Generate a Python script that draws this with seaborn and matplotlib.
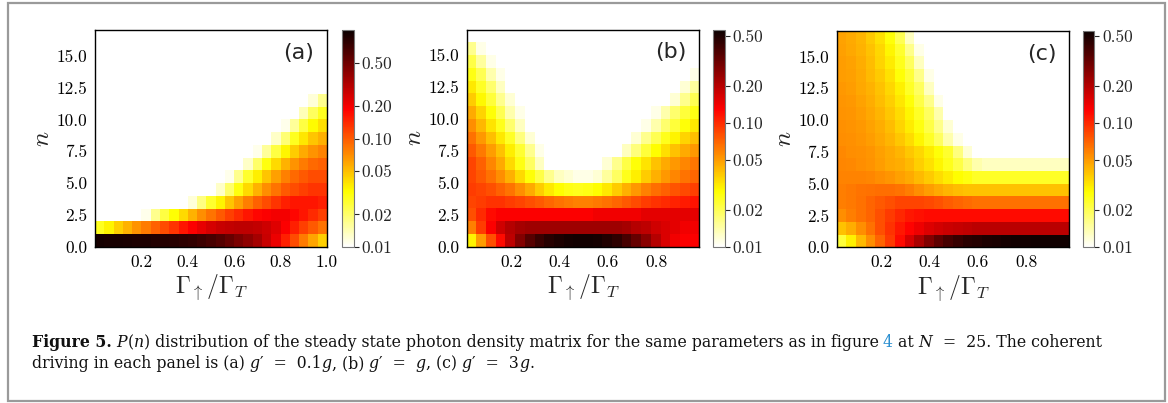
import numpy as np
import pandas as pd
import seaborn as sns
from matplotlib import pyplot as plt
from matplotlib.colors import LogNorm
from matplotlib.patches import Rectangle

# photon number n (rows) and pump ratio Gamma_up / Gamma_T (columns)
n_levels = list(range(17))

gamma_a = [0.02, 0.06, 0.10, 0.14, 0.18, 0.22, 0.26, 0.30, 0.34, 0.38, 0.42, 0.46, 0.50,
           0.54, 0.58, 0.62, 0.66, 0.70, 0.74, 0.78, 0.82, 0.86, 0.90, 0.94, 0.98]
gamma_bc = [0.037, 0.077, 0.117, 0.158, 0.198, 0.238, 0.278, 0.319, 0.359, 0.399, 0.440, 0.480,
            0.520, 0.560, 0.601, 0.641, 0.681, 0.722, 0.762, 0.802, 0.842, 0.883, 0.923, 0.963]

# P(n), (a) g' = 0.1g ; rows n = 0..16
pn_a = [
    [0.92, 0.91, 0.9, 0.89, 0.88, 0.87, 0.85, 0.83, 0.81, 0.78, 0.75, 0.71, 0.66, 0.6, 0.53,
     0.46, 0.4, 0.34, 0.27, 0.21, 0.15, 0.11, 0.08, 0.06, 0.045],
    [0.028, 0.035, 0.045, 0.055, 0.068, 0.08, 0.095, 0.11, 0.13, 0.16, 0.19, 0.22, 0.25, 0.27,
     0.28, 0.29, 0.29, 0.28, 0.26, 0.23, 0.19, 0.15, 0.12, 0.1, 0.085],
    [0] * 5 + [0.011, 0.017, 0.024, 0.032, 0.042, 0.055, 0.07, 0.085, 0.1, 0.12, 0.14, 0.16,
               0.18, 0.19, 0.2, 0.2, 0.18, 0.16, 0.14, 0.12],
    [0] * 10 + [0.012, 0.018, 0.026, 0.035, 0.048, 0.062, 0.078, 0.095, 0.11, 0.13, 0.15, 0.16,
                0.16, 0.16, 0.15],
    [0] * 13 + [0.013, 0.02, 0.03, 0.042, 0.055, 0.07, 0.085, 0.1, 0.11, 0.12, 0.13, 0.13],
    [0] * 14 + [0.011, 0.017, 0.026, 0.036, 0.048, 0.062, 0.077, 0.09, 0.1, 0.11, 0.11],
    [0] * 16 + [0.013, 0.02, 0.03, 0.042, 0.055, 0.068, 0.08, 0.09, 0.095],
    [0] * 17 + [0.011, 0.016, 0.024, 0.034, 0.046, 0.058, 0.068, 0.075],
    [0] * 19 + [0.013, 0.019, 0.028, 0.038, 0.048, 0.056],
    [0] * 20 + [0.011, 0.016, 0.024, 0.033, 0.04],
    [0] * 22 + [0.014, 0.021, 0.028],
    [0] * 23 + [0.012, 0.017],
    [0] * 25,
    [0] * 25,
    [0] * 25,
    [0] * 25,
    [0] * 25,
]

# P(n), (b) g' = g
pn_b = [
    [0.03, 0.05, 0.08, 0.12, 0.19, 0.27, 0.35, 0.42, 0.47, 0.5, 0.52, 0.53, 0.53, 0.52, 0.49,
     0.45, 0.39, 0.32, 0.26, 0.2, 0.16, 0.14, 0.13, 0.13],
    [0.06, 0.09, 0.13, 0.17, 0.2, 0.22, 0.23, 0.23, 0.23, 0.23, 0.23, 0.23, 0.23, 0.23, 0.23,
     0.23, 0.22, 0.2, 0.19, 0.17, 0.16, 0.15, 0.14, 0.14],
    [0.08, 0.1, 0.12, 0.13, 0.13, 0.13, 0.13, 0.13, 0.13, 0.13, 0.13, 0.13, 0.13, 0.14, 0.14,
     0.14, 0.14, 0.14, 0.15, 0.15, 0.15, 0.15, 0.15, 0.15],
    [0.085, 0.09, 0.095, 0.095, 0.09, 0.085, 0.08, 0.075, 0.07, 0.065, 0.062, 0.06, 0.06, 0.062,
     0.065, 0.07, 0.076, 0.082, 0.09, 0.095, 0.1, 0.105, 0.11, 0.115],
    [0.09, 0.085, 0.08, 0.072, 0.064, 0.055, 0.046, 0.038, 0.032, 0.028, 0.026, 0.025, 0.026,
     0.028, 0.032, 0.038, 0.045, 0.052, 0.06, 0.066, 0.072, 0.078, 0.083, 0.088],
    [0.085, 0.075, 0.065, 0.055, 0.045, 0.035, 0.027, 0.021, 0.016, 0.013, 0.012, 0.011, 0.011,
     0.012, 0.015, 0.019, 0.025, 0.031, 0.038, 0.045, 0.052, 0.058, 0.064, 0.07],
    [0.085, 0.072, 0.058, 0.046, 0.035, 0.026, 0.019, 0.013] + [0] * 6
    + [0.012, 0.016, 0.021, 0.027, 0.033, 0.04, 0.046, 0.052, 0.058, 0.063],
    [0.075, 0.062, 0.05, 0.04, 0.031, 0.023, 0.016, 0.011] + [0] * 8
    + [0.013, 0.017, 0.022, 0.028, 0.034, 0.04, 0.046, 0.052],
    [0.065, 0.052, 0.041, 0.032, 0.024, 0.017, 0.012] + [0] * 10
    + [0.012, 0.016, 0.02, 0.025, 0.03, 0.036, 0.041],
    [0.055, 0.043, 0.033, 0.025, 0.018, 0.013] + [0] * 12
    + [0.011, 0.014, 0.018, 0.022, 0.027, 0.032],
    [0.046, 0.036, 0.027, 0.02, 0.014, 0.011] + [0] * 13 + [0.011, 0.014, 0.018, 0.022, 0.026],
    [0.038, 0.029, 0.022, 0.016, 0.012] + [0] * 16 + [0.012, 0.016, 0.02],
    [0.032, 0.024, 0.018, 0.013] + [0] * 18 + [0.012, 0.015],
    [0.026, 0.02, 0.014, 0.011] + [0] * 19 + [0.011],
    [0.021, 0.015, 0.011] + [0] * 21,
    [0.016, 0.011] + [0] * 22,
    [0] * 24,
]

# P(n), (c) g' = 3g
pn_c = [
    [0.022, 0.03, 0.042, 0.055, 0.07, 0.09, 0.12, 0.16, 0.21, 0.27, 0.33, 0.38, 0.42, 0.45,
     0.47, 0.49, 0.5, 0.51, 0.52, 0.52, 0.53, 0.53, 0.53, 0.53],
    [0.04, 0.045, 0.055, 0.065, 0.08, 0.095, 0.11, 0.125, 0.14, 0.155, 0.165, 0.175, 0.18,
     0.185, 0.19, 0.19, 0.19, 0.19, 0.19, 0.19, 0.19, 0.19, 0.19, 0.19],
    [0.055, 0.06, 0.065, 0.07, 0.08, 0.09, 0.1, 0.11, 0.115, 0.12, 0.12, 0.12, 0.12, 0.12,
     0.12, 0.12, 0.12, 0.12, 0.12, 0.12, 0.12, 0.12, 0.12, 0.12],
    [0.06, 0.062, 0.065, 0.07, 0.075, 0.08, 0.085, 0.085, 0.085, 0.082, 0.078, 0.074, 0.07,
     0.067, 0.065, 0.065, 0.065, 0.065, 0.065, 0.065, 0.065, 0.065, 0.065, 0.065],
    [0.06, 0.062, 0.064, 0.065, 0.066, 0.066, 0.064, 0.06, 0.055, 0.05, 0.046, 0.043, 0.041,
     0.04, 0.04, 0.04, 0.04, 0.04, 0.04, 0.04, 0.04, 0.04, 0.04, 0.04],
    [0.058, 0.058, 0.058, 0.057, 0.055, 0.052, 0.049, 0.046, 0.042, 0.038, 0.034, 0.031, 0.028,
     0.026, 0.024, 0.024, 0.024, 0.024, 0.024, 0.024, 0.024, 0.024, 0.024, 0.024],
    [0.057, 0.056, 0.055, 0.053, 0.05, 0.047, 0.045, 0.042, 0.037, 0.033, 0.029, 0.025, 0.021,
     0.017, 0.014, 0.013, 0.013, 0.013, 0.013, 0.013, 0.013, 0.013, 0.013, 0.013],
    [0.056, 0.055, 0.054, 0.052, 0.049, 0.046, 0.043, 0.039, 0.035, 0.031, 0.027, 0.023, 0.017,
     0.012] + [0] * 10,
    [0.055, 0.054, 0.052, 0.05, 0.047, 0.043, 0.039, 0.034, 0.029, 0.024, 0.019, 0.014,
     0.011] + [0] * 11,
    [0.054, 0.053, 0.051, 0.048, 0.045, 0.041, 0.036, 0.031, 0.026, 0.021, 0.016, 0.012] + [0] * 12,
    [0.053, 0.052, 0.05, 0.047, 0.043, 0.039, 0.034, 0.029, 0.024, 0.019, 0.014] + [0] * 13,
    [0.052, 0.051, 0.048, 0.045, 0.041, 0.037, 0.032, 0.027, 0.021, 0.016, 0.011] + [0] * 13,
    [0.051, 0.05, 0.047, 0.044, 0.04, 0.035, 0.03, 0.024, 0.019, 0.013] + [0] * 14,
    [0.05, 0.049, 0.046, 0.042, 0.038, 0.033, 0.027, 0.022, 0.016, 0.011] + [0] * 14,
    [0.05, 0.048, 0.045, 0.041, 0.036, 0.031, 0.025, 0.019, 0.013] + [0] * 15,
    [0.049, 0.047, 0.044, 0.04, 0.035, 0.029, 0.023, 0.016, 0.011] + [0] * 15,
    [0.048, 0.046, 0.043, 0.038, 0.033, 0.027, 0.02, 0.013] + [0] * 16,
]

panel_labels = ['(a)', '(b)', '(c)']
y_ticks = [0.0, 2.5, 5.0, 7.5, 10.0, 12.5, 15.0]
x_ticks_a = [0.2, 0.4, 0.6, 0.8, 1.0]
x_ticks_bc = [0.2, 0.4, 0.6, 0.8]
cbar_ticks = [0.01, 0.02, 0.05, 0.1, 0.2, 0.5]
cbar_tick_labels = ['0.01', '0.02', '0.05', '0.10', '0.20', '0.50']

W, H = 1168, 403


def px_rect(left, top, right, bottom):
    return [left / W, (H - bottom) / H, (right - left) / W, (bottom - top) / H]


def draw_panel(fig, ax_box, cax_box, pn, gammas, vmax, x_ticks, label):
    ax = fig.add_axes(px_rect(*ax_box))
    cax = fig.add_axes(px_rect(*cax_box))
    df = pd.DataFrame(pn, index=n_levels, columns=gammas)
    sns.heatmap(df, ax=ax, cbar_ax=cax, cmap='hot_r', mask=(df <= 0),
                norm=LogNorm(vmin=0.01, vmax=vmax),
                xticklabels=False, yticklabels=False)
    ax.set_ylim(0, len(n_levels))
    ax.set_xlim(0, len(gammas))

    # map tick values onto the heatmap column coordinates
    dx = gammas[1] - gammas[0]
    x0 = gammas[0] - dx / 2
    ax.set_xticks([(t - x0) / dx for t in x_ticks])
    ax.set_xticklabels([f'{t:.1f}' for t in x_ticks], family='cmr10', fontsize=12.5)
    ax.set_yticks(y_ticks)
    ax.set_yticklabels([f'{t:.1f}' for t in y_ticks], family='cmr10', fontsize=12.5)
    ax.tick_params(direction='out', length=3.5, width=0.8, pad=2, colors='black')
    for sp in ax.spines.values():
        sp.set_visible(True)
        sp.set_color('black')
        sp.set_linewidth(1.0)

    ax.set_xlabel(r'$\Gamma_{\uparrow}/\Gamma_T$', fontsize=17, labelpad=2)
    ax.set_ylabel(r'$n$', fontsize=18, labelpad=2)
    ax.text(0.945, 0.895, label, transform=ax.transAxes, ha='right', va='center',
            family='DejaVu Sans', fontsize=16)

    cb = ax.collections[0].colorbar
    cb.set_ticks(cbar_ticks)
    cb.set_ticklabels(cbar_tick_labels)
    cb.ax.minorticks_off()
    cb.ax.tick_params(length=3.5, width=0.8, pad=2, labelsize=12.5)
    for t in cb.ax.get_yticklabels():
        t.set_family('cmr10')
    cb.outline.set_linewidth(0.8)
    cb.outline.set_edgecolor('#777777')


def draw_runs(fig, x, y, runs, common):
    # place text pieces one after another; spaces sit at the start of a piece
    renderer = fig.canvas.get_renderer()
    for text, style in runs:
        props = dict(common)
        props.update(style)
        t = fig.text(x, y, text, va='baseline', ha='left', **props)
        bb = t.get_window_extent(renderer=renderer)
        x += bb.width / fig.bbox.width


def main():
    sns.set_style('white')
    plt.rcParams['mathtext.fontset'] = 'cm'
    plt.rcParams['axes.unicode_minus'] = False

    fig = plt.figure(figsize=(W / 100, H / 100), dpi=100)

    draw_panel(fig, (95, 30, 327, 247), (342, 30, 354, 247), pn_a, gamma_a, 1.0,
               x_ticks_a, panel_labels[0])
    draw_panel(fig, (466.7, 29.5, 699.3, 246.7), (713.3, 30, 725, 247), pn_b, gamma_bc, 0.56,
               x_ticks_bc, panel_labels[1])
    draw_panel(fig, (836.7, 31, 1069.3, 247.3), (1083.3, 31, 1094.3, 247.3), pn_c, gamma_bc, 0.55,
               x_ticks_bc, panel_labels[2])

    # caption
    cap = dict(family=['DejaVu Serif'], fontsize=11.3, color='#111111')
    it = dict(style='italic')
    line1 = [
        ('Figure 5.', dict(weight='bold')),
        (' P', it), ('(', {}), ('n', it),
        (') distribution of the steady state photon density matrix for the same '
         'parameters as in figure', {}),
        (' 4', dict(color='#2b8fd0')),
        (' at', {}), (' N', it), ('  =  25. The coherent', {}),
    ]
    line2 = [
        ('driving in each panel is (a)', {}),
        (' g', it), ('′  =  0.1', {}), ('g', it),
        (', (b)', {}), (' g', it), ('′  = ', {}), (' g', it),
        (', (c)', {}), (' g', it), ('′  =  3', {}), ('g', it), ('.', {}),
    ]
    draw_runs(fig, 32 / W, (H - 347) / H, line1, cap)
    draw_runs(fig, 32 / W, (H - 368) / H, line2, cap)

    fig.patches.append(Rectangle((8 / W, 2 / H), 1157 / W, 398 / H, transform=fig.transFigure,
                                 fill=False, edgecolor='#9a9a9a', linewidth=1.6))

    fig.savefig('out.png', dpi=100)


if __name__ == '__main__':
    main()
